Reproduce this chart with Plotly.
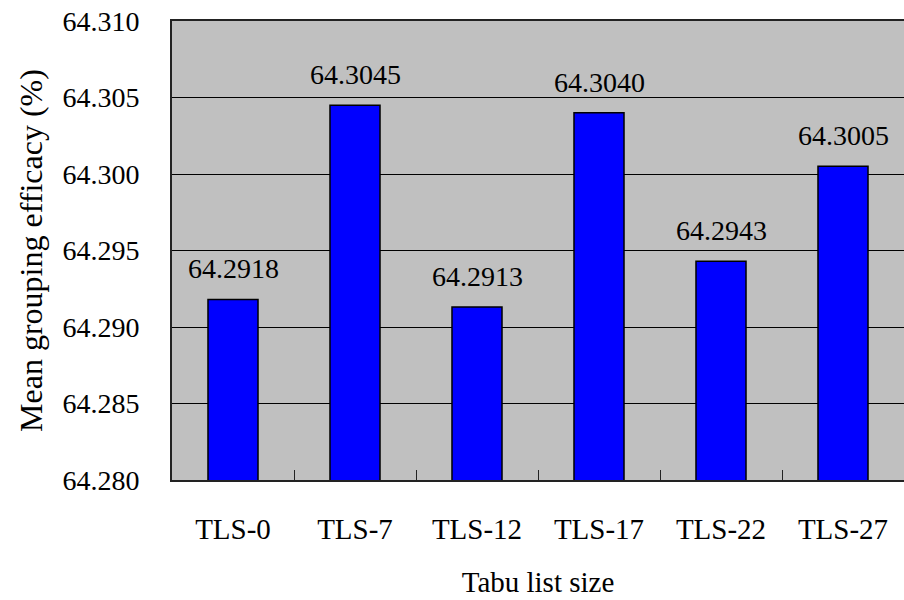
import plotly.graph_objects as go

# Mean grouping efficacy for each tabu list size
categories = ["TLS-0", "TLS-7", "TLS-12", "TLS-17", "TLS-22", "TLS-27"]
efficacy = [64.2918, 64.3045, 64.2913, 64.3040, 64.2943, 64.3005]
y_ticks = [64.280, 64.285, 64.290, 64.295, 64.300, 64.305, 64.310]
y_tick_labels = [f"{v:.3f}" for v in y_ticks]

serif = "Liberation Serif"

fig = go.Figure(
    go.Bar(
        x=categories,
        y=efficacy,
        width=0.41,
        marker=dict(color="#0000FF", line=dict(color="#000000", width=1.5)),
    )
)

# value labels above each bar
for cat, val in zip(categories, efficacy):
    fig.add_annotation(
        x=cat, y=val, text=f"{val:.4f}",
        showarrow=False, yanchor="bottom", yshift=13,
        font=dict(family=serif, size=28, color="#000000"),
    )

fig.update_layout(
    width=904,
    height=600,
    margin=dict(l=172, r=0, t=21, b=120),
    paper_bgcolor="#FFFFFF",
    plot_bgcolor="#C0C0C0",
    showlegend=False,
    font=dict(family=serif, size=28, color="#000000"),
)

fig.update_xaxes(
    type="category",
    showline=True,
    linecolor="#222222",
    linewidth=2,
    mirror=True,
    ticks="inside",
    tickson="boundaries",
    ticklen=10,
    tickcolor="#222222",
    ticklabelstandoff=22,
    tickfont=dict(family=serif, size=29),
    title=dict(text="Tabu list size", font=dict(family=serif, size=29), standoff=28),
    showgrid=False,
    automargin=False,
)

fig.update_yaxes(
    range=[64.280, 64.310],
    tickvals=y_ticks,
    ticktext=y_tick_labels,
    showgrid=True,
    gridcolor="#000000",
    gridwidth=1,
    showline=True,
    linecolor="#222222",
    linewidth=2,
    ticks="",
    ticklabelstandoff=25,
    tickfont=dict(family=serif, size=28),
    title=dict(text="Mean grouping efficacy (%)", font=dict(family=serif, size=32), standoff=10),
    zeroline=False,
    automargin=False,
)

fig.write_html("out.html")
